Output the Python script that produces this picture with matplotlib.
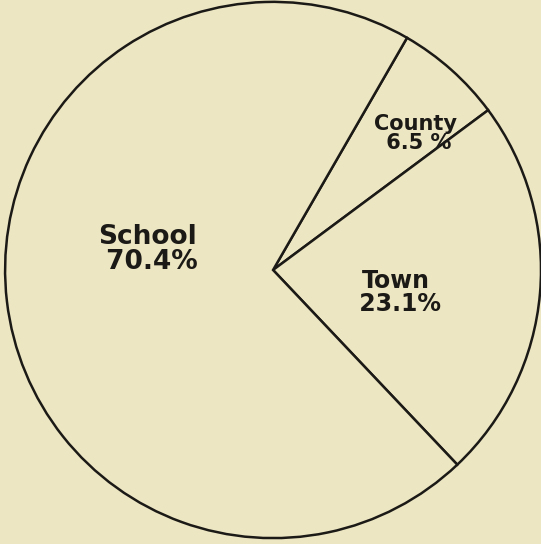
import matplotlib.pyplot as plt

labels = ["County", "Town", "School"]
shares = [6.5, 23.1, 70.4]
pct_text = ["6.5 %", "23.1%", "70.4%"]

bg = "#ede6c3"
ink = "#1c1a16"

fig = plt.figure(figsize=(5.41, 5.44), dpi=100, facecolor=bg)
ax = fig.add_axes([0, 0, 1, 1])
ax.set_facecolor(bg)

ax.pie(shares, startangle=60, counterclock=False, radius=1.0,
       colors=[bg] * 3,
       wedgeprops=dict(edgecolor=ink, linewidth=1.8))

# hand-lettered labels inside each slice
label_pos = [(0.53, 0.51), (0.46, -0.085), (-0.47, 0.075)]
label_size = [15, 17, 19]
for name, pct, (x, y), fs in zip(labels, pct_text, label_pos, label_size):
    ax.text(x, y, f"{name}\n {pct}", ha="center", va="center",
            fontsize=fs, fontweight="bold", color=ink, linespacing=0.95)

ax.set_xlim(-1.019, 1.0)
ax.set_ylim(-1.022, 1.007)
ax.set_aspect("auto")
ax.axis("off")

fig.savefig("out.png", dpi=100, facecolor=bg)
